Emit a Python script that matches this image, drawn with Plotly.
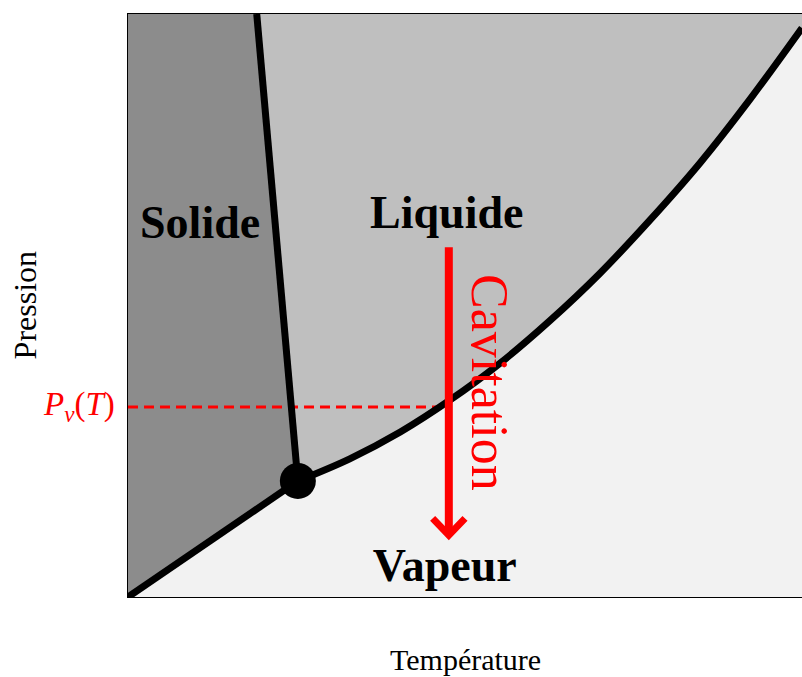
import plotly.graph_objects as go

# ---- data (T and P in arbitrary units, 0-100) ----
triple_T, triple_P = 25.2, 19.9

sublimation_T = [0.0, 25.2]
sublimation_P = [0.0, 19.9]

melting_T = [25.2, 19.1]
melting_P = [19.9, 100.0]

vapor_T = [25.2, 32.9, 40.4, 47.8, 55.2, 62.6, 70.0, 77.4, 84.9, 92.3, 100.0]
vapor_P = [19.9, 23.7, 28.3, 33.8, 40.1, 47.4, 55.5, 64.6, 74.5, 85.4, 97.6]

pv_level = 32.6
pv_T_end = 46.7

cav_T = 47.6
cav_P_top = 60.0
cav_P_tip = 10.6

labels = ["Solide", "Liquide", "Vapeur"]
labels_T = [10.7, 47.3, 47.0]
labels_P = [63.6, 65.2, 4.8]

T_range = [0, 100]
P_range = [0, 100]

SOLID = "#8c8c8c"
LIQUID = "#bfbfbf"
VAPOR = "#f2f2f2"
SERIF = "Liberation Serif, DejaVu Serif, serif"

fig = go.Figure()

# vapour region
fig.add_trace(go.Scatter(
    x=[0, 100] + vapor_T[::-1] + [0],
    y=[0, 0] + vapor_P[::-1] + [0],
    fill="toself", fillcolor=VAPOR, line=dict(width=0),
    mode="lines", hoverinfo="skip", showlegend=False))
# liquid region
fig.add_trace(go.Scatter(
    x=vapor_T + [100, melting_T[1], triple_T],
    y=vapor_P + [100, melting_P[1], triple_P],
    fill="toself", fillcolor=LIQUID, line=dict(width=0), mode="lines",
    hoverinfo="skip", showlegend=False))
# solid region
fig.add_trace(go.Scatter(
    x=[0, triple_T, melting_T[1], 0, 0],
    y=[0, triple_P, melting_P[1], 100, 0],
    fill="toself", fillcolor=SOLID, line=dict(width=0), mode="lines",
    hoverinfo="skip", showlegend=False))

# dashed Pv(T)
fig.add_trace(go.Scatter(
    x=[0, pv_T_end], y=[pv_level, pv_level], mode="lines",
    line=dict(color="red", width=3, dash="10px,6px"),
    hoverinfo="skip", showlegend=False))

# phase boundaries
for xs, ys, shp in [(sublimation_T, sublimation_P, "linear"),
                    (melting_T, melting_P, "linear"),
                    (vapor_T, vapor_P, "spline")]:
    fig.add_trace(go.Scatter(x=xs, y=ys, mode="lines",
                             line=dict(color="black", width=7, shape=shp, smoothing=1),
                             hoverinfo="skip", showlegend=False))

# triple point
fig.add_trace(go.Scatter(x=[triple_T], y=[triple_P], mode="markers",
                         marker=dict(color="black", size=36),
                         hoverinfo="skip", showlegend=False))

# cavitation arrow
head_dT, head_dP = 2.4, 2.9
fig.add_trace(go.Scatter(
    x=[cav_T, cav_T], y=[cav_P_top, cav_P_tip + 0.6], mode="lines",
    line=dict(color="red", width=8), hoverinfo="skip", showlegend=False))
fig.add_trace(go.Scatter(
    x=[cav_T - head_dT, cav_T, cav_T + head_dT],
    y=[cav_P_tip + head_dP, cav_P_tip, cav_P_tip + head_dP], mode="lines",
    line=dict(color="red", width=7), hoverinfo="skip", showlegend=False))

# phase labels
fig.add_trace(go.Scatter(
    x=labels_T, y=labels_P, mode="text",
    text=["<b>%s</b>" % s for s in labels],
    textfont=dict(family=SERIF, size=46, color="black"),
    hoverinfo="skip", showlegend=False))

fig.add_annotation(x=53.7, y=36.7, xref="x", yref="y", text="Cavitation",
                   textangle=90, showarrow=False,
                   font=dict(family=SERIF, size=52, color="red"))

fig.add_annotation(x=-0.017, y=pv_level, xref="paper", yref="y",
                   xanchor="right", text="<i>P</i><sub><i>v</i></sub>(<i>T</i>)",
                   showarrow=False, font=dict(family=SERIF, size=33, color="red"))

# axis titles
fig.add_annotation(x=0.5, y=-0.108, xref="paper", yref="paper", text="Température",
                   showarrow=False, yanchor="middle",
                   font=dict(family=SERIF, size=30, color="black"))
fig.add_annotation(x=-0.153, y=0.5, xref="paper", yref="paper", text="Pression",
                   showarrow=False, textangle=-90, xanchor="center",
                   font=dict(family=SERIF, size=32, color="black"))

fig.update_layout(
    width=802, height=677,
    margin=dict(l=128, r=0, t=14, b=80, autoexpand=False),
    paper_bgcolor="white", plot_bgcolor="white",
    xaxis=dict(range=T_range, showgrid=False, zeroline=False, showticklabels=False,
               ticks="", showline=True, linecolor="black", linewidth=1, mirror=True,
               automargin=False),
    yaxis=dict(range=P_range, showgrid=False, zeroline=False, showticklabels=False,
               ticks="", showline=True, linecolor="black", linewidth=1,
               automargin=False),
)

fig.write_html("out.html", config={"displayModeBar": False},
               post_script="document.body.style.margin='0';")
